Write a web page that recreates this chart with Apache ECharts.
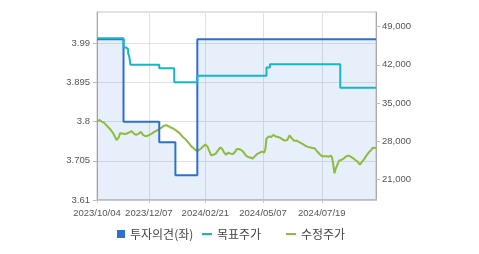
<!DOCTYPE html>
<html><head><meta charset="utf-8">
<script src="https://cdn.jsdelivr.net/npm/echarts@6/dist/echarts.min.js"></script>
<style>html,body{margin:0;padding:0;background:#fff}#c{width:479px;height:254px}</style>
</head><body><div id="c"></div>
<script>
const dates = [
"2023/10/04","2023/10/05","2023/10/06","2023/10/10","2023/10/11","2023/10/12","2023/10/13","2023/10/16","2023/10/17","2023/10/18","2023/10/19","2023/10/20","2023/10/23","2023/10/24","2023/10/25","2023/10/26","2023/10/27","2023/10/30","2023/10/31",
"2023/11/01","2023/11/02","2023/11/03","2023/11/06","2023/11/07","2023/11/08","2023/11/09","2023/11/10","2023/11/13","2023/11/14","2023/11/15","2023/11/16","2023/11/17","2023/11/20","2023/11/21","2023/11/22","2023/11/23","2023/11/24","2023/11/27","2023/11/28","2023/11/29","2023/11/30",
"2023/12/01","2023/12/04","2023/12/05","2023/12/06","2023/12/07","2023/12/08","2023/12/11","2023/12/12","2023/12/13","2023/12/14","2023/12/15","2023/12/18","2023/12/19","2023/12/20","2023/12/21","2023/12/22","2023/12/26","2023/12/27","2023/12/28",
"2024/01/02","2024/01/03","2024/01/04","2024/01/05","2024/01/08","2024/01/09","2024/01/10","2024/01/11","2024/01/12","2024/01/15","2024/01/16","2024/01/17","2024/01/18","2024/01/19","2024/01/22","2024/01/23","2024/01/24","2024/01/25","2024/01/26","2024/01/29","2024/01/30","2024/01/31",
"2024/02/01","2024/02/02","2024/02/05","2024/02/06","2024/02/07","2024/02/08","2024/02/13","2024/02/14","2024/02/15","2024/02/16","2024/02/19","2024/02/20","2024/02/21","2024/02/22","2024/02/23","2024/02/26","2024/02/27","2024/02/28","2024/02/29",
"2024/03/04","2024/03/05","2024/03/06","2024/03/07","2024/03/08","2024/03/11","2024/03/12","2024/03/13","2024/03/14","2024/03/15","2024/03/18","2024/03/19","2024/03/20","2024/03/21","2024/03/22","2024/03/25","2024/03/26","2024/03/27","2024/03/28","2024/03/29",
"2024/04/01","2024/04/02","2024/04/03","2024/04/04","2024/04/05","2024/04/08","2024/04/09","2024/04/11","2024/04/12","2024/04/15","2024/04/16","2024/04/17","2024/04/18","2024/04/19","2024/04/22","2024/04/23","2024/04/24","2024/04/25","2024/04/26","2024/04/29","2024/04/30",
"2024/05/02","2024/05/03","2024/05/07","2024/05/08","2024/05/09","2024/05/10","2024/05/13","2024/05/14","2024/05/16","2024/05/17","2024/05/20","2024/05/21","2024/05/22","2024/05/23","2024/05/24","2024/05/27","2024/05/28","2024/05/29","2024/05/30","2024/05/31",
"2024/06/03","2024/06/04","2024/06/05","2024/06/07","2024/06/10","2024/06/11","2024/06/12","2024/06/13","2024/06/14","2024/06/17","2024/06/18","2024/06/19","2024/06/20","2024/06/21","2024/06/24","2024/06/25","2024/06/26","2024/06/27","2024/06/28",
"2024/07/01","2024/07/02","2024/07/03","2024/07/04","2024/07/05","2024/07/08","2024/07/09","2024/07/10","2024/07/11","2024/07/12","2024/07/15","2024/07/16","2024/07/17","2024/07/18","2024/07/19","2024/07/22","2024/07/23","2024/07/24","2024/07/25","2024/07/26","2024/07/29","2024/07/30","2024/07/31",
"2024/08/01","2024/08/02","2024/08/05","2024/08/06","2024/08/07","2024/08/08","2024/08/09","2024/08/12","2024/08/13","2024/08/14","2024/08/16","2024/08/19","2024/08/20","2024/08/21","2024/08/22","2024/08/23","2024/08/26","2024/08/27","2024/08/28","2024/08/29","2024/08/30",
"2024/09/02","2024/09/03","2024/09/04","2024/09/05","2024/09/06","2024/09/09","2024/09/10","2024/09/11","2024/09/12","2024/09/13","2024/09/19","2024/09/20","2024/09/23","2024/09/24","2024/09/25","2024/09/26","2024/09/27","2024/09/30"
];
const labelDates = ["2023/10/04","2023/12/07","2024/02/21","2024/05/07","2024/07/19"];

// 수정주가 (right axis, KRW)
const price = [
31550,31700,31900,31800,31600,31550,31400,31150,30950,30700,
30500,30350,30050,29750,29450,29050,28650,28200,27900,28750,
29450,29500,29400,29450,29300,29200,29400,29500,29600,29700,
29850,29600,29400,29200,29150,29200,29350,29450,29700,29750,
29150,29050,28900,28800,29000,29150,29200,29300,29450,29600,
29750,30050,29950,30150,30250,30400,30500,30650,30800,30850,
30950,30850,30750,30650,30500,30400,30350,30200,30050,29950,
29750,29500,29400,29150,28850,28650,28500,28200,28050,27750,
27550,27300,27000,26850,26650,26400,26300,26200,26300,26450,
26600,26850,27000,27250,27400,27300,26950,26400,25900,25400,
25450,25500,25650,25700,26000,26300,26600,26850,26950,26450,
26000,25700,25500,25850,25900,25750,25700,25750,25650,25700,
26100,26500,26600,26550,26450,26400,26300,26000,25700,25400,
25250,25100,24800,25000,25100,24800,25000,25250,25500,25650,
25750,25850,25900,26100,26200,25900,26450,28500,28750,28850,
28600,28750,29050,29150,29100,28850,28500,28750,28650,28600,
28500,28300,28200,28100,27850,28200,28450,29050,28750,28500,
28300,28050,27950,28100,27750,27850,27950,27650,27550,27400,
27300,27100,27000,26950,26900,26850,26800,26750,26700,26650,
26400,26100,25850,25650,25450,25250,25200,25250,25300,25250,
25200,25150,25250,25350,24900,23600,22100,22900,23400,23900,
24450,24800,24550,24450,24800,25100,25200,25250,25350,25250,
25150,25000,24900,24800,24550,24450,24250,24100,23700,24000,
24250,24550,24800,25100,25450,25750,26000,26200,26400,26800,
26850,26750,26800
];

// 투자의견 (left axis) — change points
const opinionDates  = ["2023/10/04","2023/11/07","2023/12/20","2024/01/12","2024/02/08","2024/09/30"];
const opinionValues = [4.0, 3.8, 3.75, 3.67, 4.0, 4.0];

// 목표주가 (right axis) — change points
const targetDates  = ["2023/10/04","2023/11/07","2023/11/09","2023/11/13","2023/11/14","2023/11/15","2023/12/20","2024/01/11","2024/02/08","2024/05/10","2024/05/16","2024/08/12","2024/09/30"];
const targetValues = [46900, 45200, 44900, 44100, 43500, 42000, 41400, 38800, 40000, 41500, 42100, 37800, 37800];

const leftTicks  = [3.61, 3.705, 3.8, 3.895, 3.99];
const rightTicks = [21000, 28000, 35000, 42000, 49000];

const opinionData = opinionDates.map((d, i) => [d, opinionValues[i]]);
const targetData = targetDates.map((d, i) => [d, targetValues[i]]);
const labelSet = new Set(labelDates.map(d => dates.indexOf(d)));
const showIdx = (i) => labelSet.has(i);

const BLUE = '#2f6fd0', CYAN = '#19b5cc', GREEN = '#8cbb3e';
const axisFont = { fontFamily: 'Liberation Sans', fontSize: 9.5, color: '#555' };
const legendText = { fontFamily: 'Noto Sans CJK KR', fontSize: 12, color: '#444' };
const lineIcon = 'path://M0,0h10v2h-10z';

const chart = echarts.init(document.getElementById('c'), null, { renderer: 'canvas' });
chart.setOption({
  animation: false,
  backgroundColor: '#fff',
  grid: { left: 97, right: 103, top: 12, bottom: 54, show: true, borderColor: '#c4c4c4', borderWidth: 1, backgroundColor: 'transparent' },
  xAxis: {
    type: 'category', data: dates, boundaryGap: false,
    axisLine: { lineStyle: { color: '#c8c8c8', width: 2 } },
    axisTick: { show: true, interval: showIdx, length: 3, lineStyle: { color: '#c8c8c8' } },
    axisLabel: { interval: showIdx, margin: 8, ...axisFont },
    splitLine: { show: true, interval: showIdx, lineStyle: { color: '#e2e2e2', width: 1 } }
  },
  yAxis: [
    {
      type: 'value', position: 'left', min: 3.61, max: 4.066, interval: 0.095,
      axisLine: { show: true, lineStyle: { color: '#aaaaaa' } },
      axisTick: { show: true, length: 4, customValues: leftTicks, lineStyle: { color: '#bbbbbb' } },
      axisLabel: { customValues: leftTicks, margin: 7, formatter: v => String(+(+v).toFixed(3)), ...axisFont },
      splitLine: { show: true, lineStyle: { color: '#e2e2e2', width: 1 } }
    },
    {
      type: 'value', position: 'right', min: 17200, max: 51700,
      axisLine: { show: true, lineStyle: { color: '#aaaaaa' } },
      axisTick: { show: true, length: 4, customValues: rightTicks, lineStyle: { color: '#bbbbbb' } },
      axisLabel: { customValues: rightTicks, margin: 6, formatter: v => Number(v).toLocaleString('en-US'), ...axisFont },
      splitLine: { show: false }
    }
  ],
  legend: [
    { data: [{ name: '투자의견(좌)', icon: 'rect', itemStyle: { color: BLUE } }], left: 117, top: 228, padding: 0, itemWidth: 8, itemHeight: 8, selectedMode: false, textStyle: legendText },
    { data: [{ name: '목표주가', icon: lineIcon, itemStyle: { color: CYAN } }], left: 202, top: 228, padding: 0, itemWidth: 10, itemHeight: 8, selectedMode: false, textStyle: legendText },
    { data: [{ name: '수정주가', icon: lineIcon, itemStyle: { color: GREEN } }], left: 286, top: 228, padding: 0, itemWidth: 10, itemHeight: 8, selectedMode: false, textStyle: legendText }
  ],
  series: [
    { type: 'line', name: '투자의견(좌)', yAxisIndex: 0, data: opinionData, step: 'end', symbol: 'none', silent: true, z: 1,
      lineStyle: { width: 0, color: BLUE }, itemStyle: { color: BLUE }, areaStyle: { color: 'rgba(47,111,208,0.16)', origin: 'start' } },
    { type: 'line', name: '수정주가', yAxisIndex: 1, data: price, symbol: 'none', z: 2,
      lineStyle: { width: 2, color: GREEN }, itemStyle: { color: GREEN } },
    { type: 'line', name: '투자의견(좌)', yAxisIndex: 0, data: opinionData, step: 'end', symbol: 'none', z: 3,
      lineStyle: { width: 2, color: BLUE }, itemStyle: { color: BLUE } },
    { type: 'line', name: '목표주가', yAxisIndex: 1, data: targetData, step: 'end', symbol: 'none', z: 4,
      lineStyle: { width: 2, color: CYAN }, itemStyle: { color: CYAN } }
  ]
});
</script></body></html>
